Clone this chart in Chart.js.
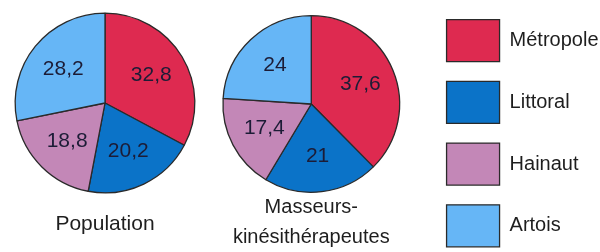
<!DOCTYPE html>
<html>
<head>
<meta charset="utf-8">
<script src="https://cdn.jsdelivr.net/npm/chart.js@4.4.1/dist/chart.umd.min.js"></script>
<style>
  html, body { margin: 0; padding: 0; background: #ffffff; width: 600px; height: 252px; overflow: hidden; }
  #wrap { position: relative; width: 600px; height: 252px; overflow: hidden; }
  #c1 { position: absolute; left: 0; top: 0; }
  #c2 { position: absolute; left: 190px; top: 0; }
</style>
</head>
<body>
<div id="wrap">
  <canvas id="c1" width="210" height="252"></canvas>
  <canvas id="c2" width="410" height="320"></canvas>
</div>
<script>
// ---- data ----
const categories = ['Métropole', 'Littoral', 'Hainaut', 'Artois'];
const populationShares = [32.8, 20.2, 18.8, 28.2];
const kineShares = [37.6, 21, 17.4, 24];
const populationTitle = 'Population';
const kineTitle = ['Masseurs-', 'kinésithérapeutes'];

// ---- styles ----
const sliceColors = ['#DE2A50', '#0B73C8', '#C387B7', '#66B6F6'];
const edgeColor = '#2a2a2a';
const FONT = "'Liberation Sans', Arial, Helvetica, sans-serif";

const sliceLabels = {
  id: 'sliceLabels',
  afterDatasetsDraw(chart) {
    const ctx = chart.ctx;
    const meta = chart.getDatasetMeta(0);
    const values = chart.data.datasets[0].data;
    ctx.save();
    ctx.font = '21px ' + FONT;
    ctx.fillStyle = '#1c1c36';
    ctx.textAlign = 'center';
    ctx.textBaseline = 'middle';
    meta.data.forEach((arc, i) => {
      const p = arc.getProps(['x', 'y', 'startAngle', 'endAngle', 'outerRadius'], true);
      const mid = (p.startAngle + p.endAngle) / 2;
      const r = p.outerRadius * 0.6;
      const txt = String(values[i]).replace('.', ',');
      ctx.fillText(txt, p.x + Math.cos(mid) * r, p.y + Math.sin(mid) * r);
    });
    ctx.restore();
  }
};

function pieDataset(values) {
  return {
    data: values,
    backgroundColor: sliceColors,
    borderColor: edgeColor,
    borderWidth: 1.3,
    hoverOffset: 0,
    offset: 0
  };
}

Chart.defaults.font.family = FONT;
Chart.defaults.color = '#1e1e1e';

new Chart(document.getElementById('c1'), {
  type: 'pie',
  data: { labels: categories, datasets: [pieDataset(populationShares)] },
  options: {
    responsive: false,
    animation: false,
    devicePixelRatio: 1,
    events: [],
    layout: { padding: { top: 12.5, bottom: 13.25, left: 0, right: 0 } },
    plugins: {
      legend: { display: false },
      tooltip: { enabled: false },
      title: {
        display: true,
        position: 'bottom',
        text: populationTitle,
        color: '#1e1e1e',
        font: { size: 21, weight: 'normal', lineHeight: '29.5px' },
        padding: { top: 15.75, bottom: 0 }
      }
    }
  },
  plugins: [sliceLabels]
});

new Chart(document.getElementById('c2'), {
  type: 'pie',
  data: { labels: categories, datasets: [pieDataset(kineShares)] },
  options: {
    responsive: false,
    animation: false,
    devicePixelRatio: 1,
    events: [],
    layout: { padding: { top: 0, bottom: 0, left: 5.7, right: -8.5 } },
    plugins: {
      tooltip: { enabled: false },
      subtitle: {
        display: true,
        position: 'top',
        text: '',
        font: { size: 10, lineHeight: '15px' },
        padding: 0
      },
      title: {
        display: true,
        position: 'bottom',
        fullSize: false,
        text: kineTitle,
        color: '#1e1e1e',
        font: { size: 20, weight: 'normal', lineHeight: '29.5px' },
        padding: { top: 0, bottom: 68 }
      },
      legend: {
        display: true,
        position: 'right',
        align: 'start',
        labels: {
          boxWidth: 53,
          boxHeight: 42,
          padding: 19.7,
          color: '#1e1e1e',
          font: { size: 20 }
        }
      }
    }
  },
  plugins: [sliceLabels]
});
</script>
</body>
</html>
